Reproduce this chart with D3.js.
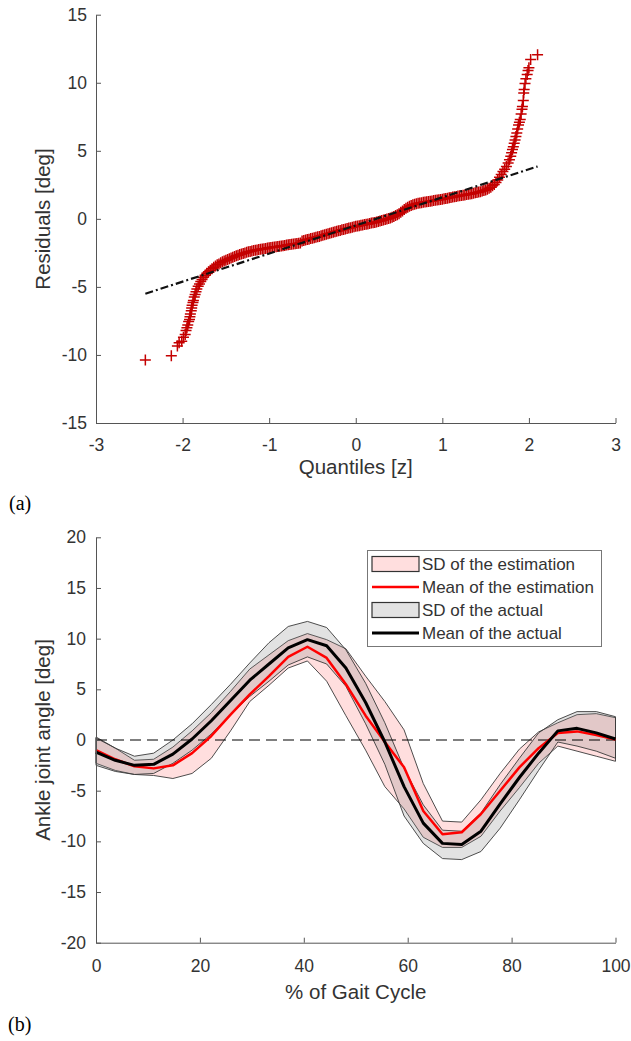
<!DOCTYPE html>
<html><head><meta charset="utf-8">
<script src="https://cdn.jsdelivr.net/npm/d3@7"></script>
<style>body{margin:0;background:#fff}svg{display:block}</style>
</head><body><svg id="c" width="631" height="1041"></svg>
<script>
// ---------- (a) Q-Q plot data ----------
const qqXTicks = [-3, -2, -1, 0, 1, 2, 3];
const qqYTicks = [-15, -10, -5, 0, 5, 10, 15];
const qqRefX = [-2.43, 2.10];
const qqRefY = [-5.5, 3.85];
// [theoretical quantile z, residual deg]
const qqSample = [
[-2.43,-10.38],[-2.13,-10.05],[-2.06,-9.35],[-2.04,-9.1],[-2.01,-9.0],[-1.99,-8.7],[-1.97,-8.5],[-1.96,-8.2],
[-1.95,-8.0],[-1.94,-7.8],[-1.93,-7.55],[-1.92,-7.4],[-1.915,-7.2],[-1.91,-7.0],[-1.90,-6.75],[-1.895,-6.55],
[-1.89,-6.35],[-1.88,-6.15],[-1.875,-6.0],[-1.865,-5.75],[-1.855,-5.55],[-1.845,-5.35],[-1.835,-5.15],[-1.82,-4.95],
[-1.805,-4.78],[-1.79,-4.6],[-1.775,-4.45],[-1.76,-4.3],[-1.74,-4.15],[-1.72,-4.0],[-1.70,-3.88],[-1.68,-3.77],
[-1.66,-3.66],[-1.64,-3.56],[-1.62,-3.46],
[-1.60,-3.38],[-1.58,-3.31],[-1.56,-3.23],[-1.54,-3.16],[-1.52,-3.09],[-1.50,-3.04],[-1.48,-2.98],[-1.46,-2.93],
[-1.44,-2.87],[-1.42,-2.82],[-1.40,-2.77],[-1.38,-2.72],[-1.36,-2.67],[-1.34,-2.62],[-1.32,-2.58],[-1.30,-2.54],
[-1.28,-2.50],[-1.26,-2.46],[-1.24,-2.42],[-1.22,-2.39],[-1.20,-2.36],[-1.18,-2.33],[-1.16,-2.30],[-1.14,-2.28],
[-1.12,-2.25],[-1.10,-2.23],[-1.08,-2.21],[-1.06,-2.19],[-1.04,-2.17],[-1.02,-2.15],[-1.00,-2.13],[-0.98,-2.11],
[-0.96,-2.09],[-0.94,-2.07],[-0.92,-2.05],[-0.90,-2.03],[-0.88,-2.01],[-0.86,-1.99],[-0.84,-1.97],[-0.82,-1.95],
[-0.80,-1.93],[-0.78,-1.91],[-0.76,-1.89],[-0.74,-1.87],[-0.72,-1.85],[-0.70,-1.83],[-0.68,-1.81],[-0.66,-1.79],
[-0.64,-1.77],[-0.62,-1.62],[-0.60,-1.59],[-0.58,-1.55],[-0.56,-1.52],[-0.54,-1.49],[-0.52,-1.45],[-0.50,-1.42],
[-0.48,-1.39],[-0.46,-1.35],[-0.44,-1.32],[-0.42,-1.29],[-0.40,-1.25],[-0.38,-1.21],[-0.36,-1.17],[-0.34,-1.14],
[-0.32,-1.10],[-0.30,-1.06],[-0.28,-1.02],[-0.26,-0.98],[-0.24,-0.95],[-0.22,-0.91],[-0.20,-0.88],[-0.18,-0.85],
[-0.16,-0.81],[-0.14,-0.78],[-0.12,-0.75],[-0.10,-0.71],[-0.08,-0.68],[-0.06,-0.65],[-0.04,-0.61],[-0.02,-0.58],
[0.00,-0.55],[0.02,-0.53],[0.04,-0.50],[0.06,-0.47],[0.08,-0.45],[0.10,-0.42],[0.12,-0.39],[0.14,-0.37],
[0.16,-0.34],[0.18,-0.31],[0.20,-0.29],[0.22,-0.26],[0.24,-0.23],[0.26,-0.19],[0.28,-0.16],[0.30,-0.13],
[0.32,-0.09],[0.34,-0.05],[0.36,-0.01],[0.38,0.03],[0.40,0.07],[0.42,0.12],[0.44,0.18],[0.46,0.24],
[0.48,0.30],[0.50,0.38],[0.52,0.48],[0.54,0.58],[0.56,0.68],[0.58,0.78],[0.60,0.86],[0.62,0.93],
[0.64,0.99],[0.66,1.04],[0.68,1.08],[0.70,1.11],[0.72,1.14],[0.74,1.16],[0.76,1.19],[0.78,1.22],
[0.80,1.24],[0.82,1.26],[0.84,1.28],[0.86,1.30],[0.88,1.32],[0.90,1.34],[0.92,1.36],[0.94,1.38],
[0.96,1.40],[0.98,1.42],[1.00,1.44],[1.02,1.47],[1.04,1.49],[1.06,1.52],[1.08,1.55],[1.10,1.57],
[1.12,1.60],[1.14,1.63],[1.16,1.65],[1.18,1.68],[1.20,1.70],[1.22,1.72],[1.24,1.74],[1.26,1.76],
[1.28,1.78],[1.30,1.80],[1.32,1.83],[1.34,1.85],[1.36,1.88],[1.38,1.91],[1.40,1.94],[1.42,1.97],
[1.44,2.00],[1.46,2.04],[1.48,2.08],[1.50,2.12],[1.52,2.18],[1.54,2.25],[1.56,2.33],[1.58,2.43],
[1.60,2.53],[1.62,2.68],
[1.64,2.85],[1.66,3.05],[1.68,3.25],[1.70,3.48],[1.72,3.65],[1.74,3.85],[1.76,4.10],[1.775,4.35],
[1.79,4.60],[1.80,4.85],[1.81,5.10],[1.82,5.30],[1.83,5.55],[1.84,5.80],[1.85,6.05],[1.86,6.30],
[1.87,6.60],[1.88,6.90],[1.89,7.10],[1.90,7.30],[1.91,7.70],[1.92,8.05],[1.925,8.25],[1.935,8.70],
[1.94,9.25],[1.945,9.50],[1.955,9.95],[1.965,10.30],[1.98,10.60],[1.99,10.90],[2.00,11.10],[2.02,11.70],
[2.10,12.05]
];

// ---------- (b) gait data ----------
const gaitXTicks = [0, 20, 40, 60, 80, 100];
const gaitYTicks = [-20, -15, -10, -5, 0, 5, 10, 15, 20];
const gaitX = [0, 3.7, 7.4, 11.1, 14.8, 18.5, 22.2, 25.9, 29.6, 33.3, 37.0, 40.7, 44.4, 48.1,
               51.9, 55.6, 59.3, 63.0, 66.7, 70.4, 74.1, 77.8, 81.5, 85.2, 88.9, 92.6, 96.3, 100];
const estMean  = [-1.0, -1.9, -2.6, -2.8, -2.5, -1.3, 0.4, 2.5, 4.5, 6.3, 8.2, 9.2, 8.1, 5.5,
                  2.4, -0.2, -2.7, -7.0, -9.3, -9.1, -7.3, -5.0, -2.7, -0.8, 0.7, 0.85, 0.5, 0.05];
const estUpper = [0.3, -0.8, -2.0, -1.9, -0.7, 0.9, 2.7, 4.8, 7.0, 8.4, 9.8, 10.5, 9.9, 9.0,
                  6.3, 3.8, 1.0, -4.3, -8.0, -8.1, -5.9, -3.3, -0.9, 0.8, 1.7, 2.5, 2.6, 2.2];
const estLower = [-2.3, -3.0, -3.4, -3.5, -3.8, -3.3, -1.8, 0.9, 3.8, 5.4, 7.1, 7.8, 5.8, 2.4,
                  -1.0, -4.6, -6.8, -9.6, -10.6, -10.6, -9.5, -7.0, -4.7, -2.3, -0.6, -1.1, -1.6, -2.1];
const actMean  = [-1.2, -2.0, -2.5, -2.4, -1.4, 0.1, 1.9, 3.9, 5.9, 7.5, 9.1, 9.9, 9.3, 7.1,
                  3.7, -0.2, -4.6, -8.2, -10.2, -10.3, -9.0, -6.3, -3.7, -1.3, 0.9, 1.15, 0.7, 0.1];
const actUpper = [0.2, -0.8, -1.6, -1.3, 0.0, 1.6, 3.5, 5.5, 7.6, 9.6, 11.2, 11.7, 11.1, 8.9,
                  5.6, 1.7, -2.8, -6.4, -8.9, -9.0, -7.2, -4.4, -1.8, 0.7, 2.0, 2.8, 2.8, 2.3];
const actLower = [-2.5, -3.1, -3.4, -3.3, -2.3, -1.0, 0.6, 2.5, 4.3, 5.8, 7.4, 8.2, 7.5, 5.3,
                  1.6, -2.4, -7.5, -10.2, -11.7, -11.8, -11.0, -8.7, -5.9, -3.0, -0.2, -0.6, -1.1, -1.8];
const legendLabels = ["SD of the estimation", "Mean of the estimation", "SD of the actual", "Mean of the actual"];

// ---------- drawing ----------
const svg = d3.select("#c");
svg.append("rect").attr("width", 631).attr("height", 1041).attr("fill", "#fff");
const FONT = '"Liberation Sans", Arial, Helvetica, sans-serif';
const AX = "#555", TXT = "#333";

function styleAxis(g) {
  g.attr("font-family", FONT).attr("font-size", 17.5);
  g.select(".domain").attr("stroke", AX).attr("stroke-width", 1);
  g.selectAll(".tick line").attr("stroke", AX).attr("stroke-width", 1);
  g.selectAll(".tick text").attr("fill", TXT);
}

// ----- plot (a)
const xq = d3.scaleLinear([-3, 3], [96, 615.5]);
const yq = d3.scaleLinear([-15, 15], [423, 14.7]);

const qqMarks = svg.append("g");
qqMarks.selectAll("path").data(qqSample).join("path")
  .attr("transform", d => `translate(${xq(d[0])},${yq(d[1])})`)
  .attr("d", "M-5.5,0H5.5M0,-5.5V5.5")
  .attr("stroke", "#c40000").attr("stroke-width", 1.5).attr("fill", "none");

svg.append("path")
  .datum(qqRefX.map((x, i) => [x, qqRefY[i]]))
  .attr("d", d3.line().x(d => xq(d[0])).y(d => yq(d[1])))
  .attr("stroke", "#111").attr("stroke-width", 2.2).attr("fill", "none")
  .attr("stroke-dasharray", "8,3,2,3");

svg.append("g").attr("transform", "translate(96,0)")
  .call(d3.axisLeft(yq).tickValues(qqYTicks).tickFormat(d => String(d))
        .tickSize(-5).tickSizeOuter(0).tickPadding(9))
  .call(styleAxis);
svg.append("g").attr("transform", "translate(0,423)")
  .call(d3.axisBottom(xq).tickValues(qqXTicks).tickFormat(d => String(d))
        .tickSize(-5).tickSizeOuter(0).tickPadding(16))
  .call(styleAxis);

svg.append("text").attr("x", 355.75).attr("y", 474).attr("text-anchor", "middle")
  .attr("font-family", FONT).attr("font-size", 20.5).attr("fill", TXT).text("Quantiles [z]");
svg.append("text").attr("transform", "translate(50,219) rotate(-90)").attr("text-anchor", "middle")
  .attr("font-family", FONT).attr("font-size", 20.5).attr("fill", TXT).text("Residuals [deg]");
svg.append("text").attr("x", 9).attr("y", 509.5)
  .attr("font-family", '"Liberation Serif", "Times New Roman", serif').attr("font-size", 20)
  .attr("fill", "#000").text("(a)");

// ----- plot (b)
const xg = d3.scaleLinear([0, 100], [96, 615.5]);
const yg = d3.scaleLinear([-20, 20], [942.7, 537.3]);
const idx = d3.range(gaitX.length);

const PINK = "#ff0000", PINK_OP = 0.13, GRAY = "#808080", GRAY_OP = 0.23, EDGE = "#3a3a3a";
const band = (up, lo) => d3.area().x(i => xg(gaitX[i])).y0(i => yg(lo[i])).y1(i => yg(up[i]));
const line = (arr) => d3.line().x(i => xg(gaitX[i])).y(i => yg(arr[i]));

svg.append("path").datum(idx).attr("d", band(estUpper, estLower))
  .attr("fill", PINK).attr("fill-opacity", PINK_OP).attr("stroke", EDGE).attr("stroke-width", 0.9);
svg.append("path").datum(idx).attr("d", band(actUpper, actLower))
  .attr("fill", GRAY).attr("fill-opacity", GRAY_OP).attr("stroke", EDGE).attr("stroke-width", 0.9);

svg.append("line").attr("x1", xg(0)).attr("x2", xg(100)).attr("y1", yg(0)).attr("y2", yg(0))
  .attr("stroke", "#000").attr("stroke-width", 1.2).attr("stroke-dasharray", "11,6");

svg.append("path").datum(idx).attr("d", line(estMean))
  .attr("fill", "none").attr("stroke", "#ff0000").attr("stroke-width", 2.5).attr("stroke-linejoin", "round");
svg.append("path").datum(idx).attr("d", line(actMean))
  .attr("fill", "none").attr("stroke", "#000").attr("stroke-width", 3).attr("stroke-linejoin", "round");

svg.append("g").attr("transform", "translate(96,0)")
  .call(d3.axisLeft(yg).tickValues(gaitYTicks).tickFormat(d => String(d))
        .tickSize(-5).tickSizeOuter(0).tickPadding(10))
  .call(styleAxis);
svg.append("g").attr("transform", "translate(0,942.7)")
  .call(d3.axisBottom(xg).tickValues(gaitXTicks).tickFormat(d => String(d))
        .tickSize(-5).tickSizeOuter(0).tickPadding(17))
  .call(styleAxis);

svg.append("text").attr("x", 355.75).attr("y", 999).attr("text-anchor", "middle")
  .attr("font-family", FONT).attr("font-size", 20.5).attr("fill", TXT).text("% of Gait Cycle");
svg.append("text").attr("transform", "translate(50,740) rotate(-90)").attr("text-anchor", "middle")
  .attr("font-family", FONT).attr("font-size", 20.5).attr("fill", TXT).text("Ankle joint angle [deg]");
svg.append("text").attr("x", 8).attr("y", 1031)
  .attr("font-family", '"Liberation Serif", "Times New Roman", serif').attr("font-size", 20)
  .attr("fill", "#000").text("(b)");

// legend
const lg = svg.append("g");
lg.append("rect").attr("x", 367.5).attr("y", 550.5).attr("width", 234).attr("height", 96)
  .attr("fill", "#fff").attr("stroke", "#777").attr("stroke-width", 1);
const rowY = [564, 587, 610, 633];
legendLabels.forEach((lab, k) => {
  const cy = rowY[k];
  if (k === 0 || k === 2) {
    lg.append("rect").attr("x", 372).attr("y", cy - 7.5).attr("width", 47).attr("height", 15)
      .attr("fill", k === 0 ? PINK : GRAY).attr("fill-opacity", k === 0 ? PINK_OP : GRAY_OP)
      .attr("stroke", "#333").attr("stroke-width", 1.2);
  } else {
    lg.append("line").attr("x1", 372).attr("x2", 419).attr("y1", cy).attr("y2", cy)
      .attr("stroke", k === 1 ? "#ff0000" : "#000").attr("stroke-width", k === 1 ? 2.5 : 3);
  }
  lg.append("text").attr("x", 422).attr("y", cy + 6).attr("font-family", FONT).attr("font-size", 17)
    .attr("fill", TXT).text(lab);
});
</script></body></html>
